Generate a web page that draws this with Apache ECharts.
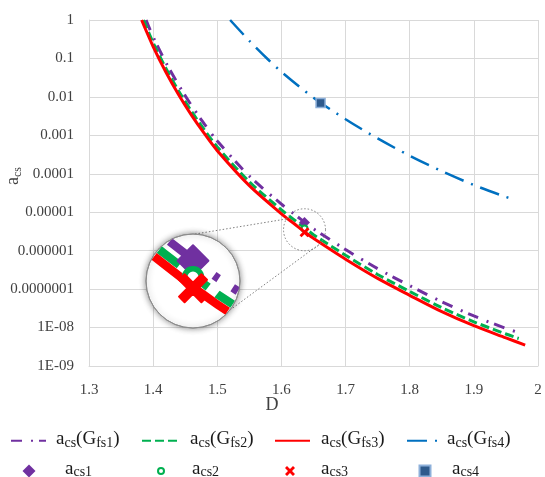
<!DOCTYPE html>
<html>
<head>
<meta charset="utf-8">
<script src="https://cdn.jsdelivr.net/npm/echarts@6/dist/echarts.min.js"></script>
<style>
  html, body { margin: 0; padding: 0; background: #ffffff; }
  #chart { width: 545px; height: 477px; }
</style>
</head>
<body>
<div id="chart"></div>
<script>
// Axis tick labels
const xTickLabels = ['1.3', '1.4', '1.5', '1.6', '1.7', '1.8', '1.9', '2'];
const yTickLabels = ['1E-09', '1E-08', '0.0000001', '0.000001', '0.00001', '0.0001', '0.001', '0.01', '0.1', '1'];

// a_cs(G_fs1)
const dGfs1 = [1.389, 1.40, 1.42, 1.44, 1.46, 1.48, 1.50, 1.55, 1.60, 1.62, 1.64, 1.65, 1.70, 1.75, 1.80, 1.85, 1.90, 1.95, 1.97];
const acsGfs1 = [1, 0.363, 0.0776, 0.020, 0.00589, 0.00195, 7.1e-4, 8.7e-5, 1.62e-5, 8.9e-6, 4.9e-6, 3.7e-6, 1.07e-6, 3.4e-7, 1.23e-7, 4.7e-8, 2.0e-8, 9.5e-9, 7.4e-9];

// a_cs(G_fs2)
const dGfs2 = [1.385, 1.40, 1.42, 1.44, 1.46, 1.48, 1.50, 1.55, 1.60, 1.62, 1.64, 1.65, 1.70, 1.75, 1.80, 1.85, 1.90, 1.95, 1.97];
const acsGfs2 = [1, 0.257, 0.055, 0.0141, 0.00417, 0.00138, 5.0e-4, 6.2e-5, 1.15e-5, 6.3e-6, 3.5e-6, 2.6e-6, 7.6e-7, 2.4e-7, 8.7e-8, 3.3e-8, 1.41e-8, 6.8e-9, 5.2e-9];

// a_cs(G_fs3)
const dGfs3 = [1.382, 1.40, 1.42, 1.44, 1.46, 1.48, 1.50, 1.55, 1.60, 1.62, 1.64, 1.65, 1.70, 1.75, 1.80, 1.85, 1.90, 1.95, 1.98];
const acsGfs3 = [1, 0.204, 0.0437, 0.0112, 0.00331, 0.0011, 3.98e-4, 4.9e-5, 9.1e-6, 5.0e-6, 2.75e-6, 2.09e-6, 6.0e-7, 1.9e-7, 6.9e-8, 2.6e-8, 1.12e-8, 5.4e-9, 3.5e-9];

// a_cs(G_fs4)
const dGfs4 = [1.52, 1.55, 1.58, 1.60, 1.65, 1.70, 1.75, 1.80, 1.85, 1.90, 1.95, 1.965];
const acsGfs4 = [1, 0.288, 0.0912, 0.0447, 0.00955, 0.00263, 8.3e-4, 2.95e-4, 1.17e-4, 5.1e-5, 2.5e-5, 2.1e-5];

// Single points a_cs1 .. a_cs4
const pointNames = ['acs1', 'acs2', 'acs3', 'acs4'];
const pointD = [1.636, 1.636, 1.636, 1.661];
const pointAcs = [5.4e-6, 3.8e-6, 3.0e-6, 0.0069];

// Centre of the magnified region (data units)
const zoomCentre = [1.636, 3.5e-6];

// Marker outlines on a 10x10 box
const crossOutline = [[0,2],[2,0],[5,3],[8,0],[10,2],[7,5],[10,8],[8,10],[5,7],[2,10],[0,8],[3,5]];
const diamondOutline = [[5,0],[10,5],[5,10],[0,5]];
const toPath = pts => 'path://M' + pts.map(p => p.join(',')).join('L') + 'Z';

const serif = '"Liberation Serif", "Times New Roman", serif';
const textDark = '#1a1a1a';
const axisGrey = '#404040';

const curves = [
  { name: 'acs(Gfs1)', d: dGfs1, v: acsGfs1, color: '#7030A0', width: 3, dash: [11, 9, 2, 6] },
  { name: 'acs(Gfs2)', d: dGfs2, v: acsGfs2, color: '#00B050', width: 3, dash: [9, 4] },
  { name: 'acs(Gfs3)', d: dGfs3, v: acsGfs3, color: '#FF0000', width: 3, dash: null },
  { name: 'acs(Gfs4)', d: dGfs4, v: acsGfs4, color: '#0070C0', width: 2.5, dash: [20, 8, 2, 8] }
];

const markerStyles = [
  { symbol: toPath(diamondOutline), outline: diamondOutline, size: 11, item: { color: '#7030A0' } },
  { symbol: 'circle', size: 6, item: { color: '#ffffff', borderColor: '#00B050', borderWidth: 2 } },
  { symbol: toPath(crossOutline), outline: crossOutline, size: 10, item: { color: '#FF0000' } },
  { symbol: 'rect', size: 9, item: { color: '#2E5A8C', borderColor: '#8DB0DA', borderWidth: 1.5 } }
];

const legendLabels = {
  'acs(Gfs1)': '{m|a}{s|cs}{m|(G}{s|fs1}{m|)}',
  'acs(Gfs2)': '{m|a}{s|cs}{m|(G}{s|fs2}{m|)}',
  'acs(Gfs3)': '{m|a}{s|cs}{m|(G}{s|fs3}{m|)}',
  'acs(Gfs4)': '{m|a}{s|cs}{m|(G}{s|fs4}{m|)}',
  'acs1': '{m|a}{s|cs1}',
  'acs2': '{m|a}{s|cs2}',
  'acs3': '{m|a}{s|cs3}',
  'acs4': '{m|a}{s|cs4}'
};

const legendRich = {
  m: { fontFamily: serif, fontSize: 19, color: textDark, verticalAlign: 'top', lineHeight: 20 },
  s: { fontFamily: serif, fontSize: 14, color: textDark, verticalAlign: 'top', lineHeight: 14, padding: [6, 0, 0, 0] }
};

// drop: extra space under the text, which lowers the icon relative to the text
function legendItem(name, left, top, w, h, pad, drop, hideSymbol) {
  const item = {
    data: [name], left: left, top: top, itemWidth: w, itemHeight: h,
    itemGap: 0, padding: 0, selectedMode: false,
    formatter: n => legendLabels[n],
    textStyle: { fontFamily: serif, fontSize: 19, color: textDark, rich: legendRich, padding: [0, 0, drop, pad] }
  };
  if (hideSymbol) item.itemStyle = { opacity: 0 };
  return item;
}

// Magnifier lens layout (pixels); links give the connector angles (deg) on lens and source circle
const lens = { cx: 193, cy: 281, r: 47, mag: 2.8, sourceR: 21, links: [[-87.5, -149], [38, 41]] };

function clipToCircle(pts, cx, cy, r) {
  const out = [];
  for (let i = 0; i < pts.length - 1; i++) {
    const p = pts[i], q = pts[i + 1];
    const dx = q[0] - p[0], dy = q[1] - p[1];
    const fx = p[0] - cx, fy = p[1] - cy;
    const A = dx * dx + dy * dy, B = 2 * (fx * dx + fy * dy), C = fx * fx + fy * fy - r * r;
    const disc = B * B - 4 * A * C;
    if (disc <= 0 || A === 0) continue;
    const s = Math.sqrt(disc);
    const t0 = Math.max(0, (-B - s) / (2 * A));
    const t1 = Math.min(1, (-B + s) / (2 * A));
    if (t0 >= t1) continue;
    if (!out.length) out.push([p[0] + t0 * dx, p[1] + t0 * dy]);
    out.push([p[0] + t1 * dx, p[1] + t1 * dy]);
  }
  return out;
}

function onCircle(cx, cy, r, deg) {
  const a = deg * Math.PI / 180;
  return [cx + r * Math.cos(a), cy + r * Math.sin(a)];
}

function renderLens(params, api) {
  const c0 = api.coord(zoomCentre);
  const M = lens.mag;
  const toLens = p => [lens.cx + (p[0] - c0[0]) * M, lens.cy + (p[1] - c0[1]) * M];
  const kids = [];
  const connector = { stroke: '#7f7f7f', lineWidth: 1, lineDash: [1.5, 2], fill: null };

  lens.links.forEach(lk => {
    const a = onCircle(lens.cx, lens.cy, lens.r, lk[0]);
    const b = onCircle(c0[0], c0[1], lens.sourceR, lk[1]);
    kids.push({ type: 'line', shape: { x1: a[0], y1: a[1], x2: b[0], y2: b[1] }, style: connector });
  });
  kids.push({ type: 'circle', shape: { cx: c0[0], cy: c0[1], r: lens.sourceR }, style: connector });

  kids.push({
    type: 'circle', shape: { cx: lens.cx, cy: lens.cy, r: lens.r },
    style: { fill: '#ffffff', stroke: '#8c8c8c', lineWidth: 1, shadowBlur: 6, shadowColor: 'rgba(0,0,0,0.45)' }
  });

  curves.slice(0, 3).forEach(cv => {
    const pts = cv.d.map((d, i) => toLens(api.coord([d, cv.v[i]])));
    const clipped = clipToCircle(pts, lens.cx, lens.cy, lens.r - 1);
    if (clipped.length > 1) {
      kids.push({
        type: 'polyline', shape: { points: clipped },
        style: { stroke: cv.color, lineWidth: cv.width * M, fill: null, lineDash: cv.dash ? cv.dash.map(x => x * M) : null }
      });
    }
  });

  for (let i = 0; i < 3; i++) {
    const p = toLens(api.coord([pointD[i], pointAcs[i]]));
    const ms = markerStyles[i];
    const s = ms.size * M;
    if (ms.outline) {
      const k = s / 10;
      kids.push({ type: 'polygon',
        shape: { points: ms.outline.map(q => [p[0] + (q[0] - 5) * k, p[1] + (q[1] - 5) * k]) },
        style: { fill: ms.item.color, stroke: ms.item.color, lineWidth: 2, lineJoin: 'round' } });
    } else {
      kids.push({ type: 'circle', shape: { cx: p[0], cy: p[1], r: s / 2 },
        style: { fill: '#ffffff', stroke: ms.item.borderColor, lineWidth: ms.item.borderWidth * M } });
    }
  }

  kids.push({ type: 'circle', shape: { cx: lens.cx, cy: lens.cy, r: lens.r },
    style: { fill: null, stroke: '#8c8c8c', lineWidth: 1 } });

  return { type: 'group', children: kids };
}

const series = [];
curves.forEach(cv => {
  series.push({
    name: cv.name, type: 'line', symbol: 'none', smooth: 0.3, z: 2,
    data: cv.d.map((d, i) => [d, cv.v[i]]),
    lineStyle: { color: cv.color, width: cv.width, type: cv.dash || 'solid', cap: 'butt' },
    itemStyle: { color: cv.color }
  });
});
pointNames.forEach((nm, i) => {
  const ms = markerStyles[i];
  series.push({
    name: nm, type: 'scatter', z: 4,
    symbol: ms.symbol, symbolSize: ms.size,
    data: [[pointD[i], pointAcs[i]]],
    itemStyle: Object.assign({ opacity: 1 }, ms.item)
  });
});
series.push({
  type: 'custom', coordinateSystem: 'cartesian2d', z: 10, silent: true,
  data: [zoomCentre], renderItem: renderLens
});

const chart = echarts.init(document.getElementById('chart'), null, { renderer: 'canvas' });
chart.setOption({
  animation: false,
  backgroundColor: '#ffffff',
  grid: { left: 89, top: 20, width: 449, height: 346, containLabel: false, outerBoundsMode: 'none' },
  xAxis: {
    type: 'value', min: 1.3, max: 2, interval: 0.1,
    axisLine: { show: true, lineStyle: { color: '#d9d9d9', width: 1 } },
    axisTick: { show: false },
    splitLine: { show: true, lineStyle: { color: '#d9d9d9', width: 1 } },
    axisLabel: {
      margin: 17, fontFamily: serif, fontSize: 15, color: axisGrey,
      formatter: v => xTickLabels[Math.round((v - 1.3) * 10)]
    }
  },
  yAxis: {
    type: 'log', logBase: 10, min: 1e-9, max: 1, splitNumber: 9,
    axisLine: { show: true, lineStyle: { color: '#d9d9d9', width: 1 } },
    axisTick: { show: false },
    minorTick: { show: false }, minorSplitLine: { show: false },
    splitLine: { show: true, lineStyle: { color: '#d9d9d9', width: 1 } },
    axisLabel: {
      margin: 15, fontFamily: serif, fontSize: 15, color: axisGrey,
      formatter: v => yTickLabels[Math.round(Math.log10(v)) + 9]
    }
  },
  legend: [
    legendItem('acs(Gfs1)', 10, 430, 35, 14, 5, 1.6, true),
    legendItem('acs(Gfs2)', 141, 430, 35, 14, 8, 1.6, true),
    legendItem('acs(Gfs3)', 274, 430, 35, 14, 6, 1.6, true),
    legendItem('acs(Gfs4)', 406, 430, 35, 14, 0, 1.6, true),
    legendItem('acs1', 22.5, 459.5, 13, 13, 24.5, 3, false),
    legendItem('acs2', 157, 459.5, 6, 6, 23, 3, false),
    legendItem('acs3', 285, 459.5, 10, 10, 21, 3, false),
    legendItem('acs4', 418.5, 459.5, 11, 11, 16.5, 3, false)
  ],
  graphic: [
    { type: 'text', x: 272, y: 405, style: { text: 'D', font: '18px ' + serif, fill: axisGrey, align: 'center', verticalAlign: 'middle' } },
    { type: 'text', x: 14, y: 176, rotation: Math.PI / 2,
      style: { text: '{m|a}{s|cs}', align: 'center', verticalAlign: 'middle',
        rich: {
          m: { fontFamily: serif, fontSize: 18, fill: axisGrey, verticalAlign: 'top', lineHeight: 19 },
          s: { fontFamily: serif, fontSize: 12, fill: axisGrey, verticalAlign: 'top', lineHeight: 12, padding: [7, 0, 0, 0] }
        } } }
  ],
  series: series
});
</script>
</body>
</html>
